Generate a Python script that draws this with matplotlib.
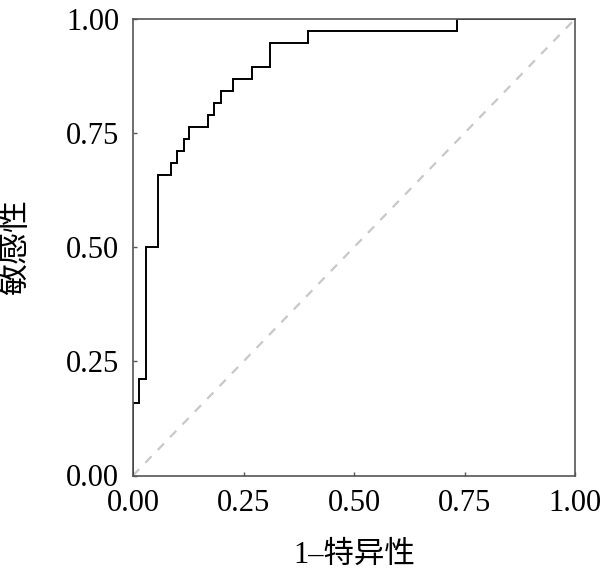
import matplotlib
matplotlib.use('Agg')
import matplotlib.pyplot as plt

# ROC step points (1 - specificity, sensitivity)
fpr = [0.0, 0.0, 0.0143, 0.0143, 0.029, 0.029, 0.057, 0.057, 0.085, 0.085,
       0.100, 0.100, 0.115, 0.115, 0.127, 0.127, 0.170, 0.170, 0.184, 0.184,
       0.199, 0.199, 0.226, 0.226, 0.269, 0.269, 0.311, 0.311, 0.396, 0.396,
       0.733, 0.733, 1.0]
tpr = [0.0, 0.158, 0.158, 0.2105, 0.2105, 0.5, 0.5, 0.658, 0.658, 0.684,
       0.684, 0.7105, 0.7105, 0.737, 0.737, 0.763, 0.763, 0.789, 0.789, 0.816,
       0.816, 0.842, 0.842, 0.868, 0.868, 0.895, 0.895, 0.947, 0.947, 0.974,
       0.974, 1.0, 1.0]
ticks = [0.0, 0.25, 0.5, 0.75, 1.0]
tick_labels = ['0.00', '0.25', '0.50', '0.75', '1.00']

fam = ['Liberation Serif', 'Noto Sans CJK SC']

fig = plt.figure(figsize=(6.07, 5.72), dpi=100)
ax = fig.add_axes([133/607, 1 - 475.5/572, 442/607, 456.5/572])

ax.plot([0, 1], [0, 1], color='#c8c8c8', linestyle=(0, (4, 4)), linewidth=1.6)
ax.plot(fpr, tpr, color='black', linewidth=1.4, solid_joinstyle='miter')

ax.set_xlim(0, 1)
ax.set_ylim(0, 1)
ax.set_xticks(ticks)
ax.set_yticks(ticks)
ax.set_xticklabels(tick_labels, family=fam, fontsize=22)
ax.set_yticklabels(tick_labels, family=fam, fontsize=22)
ax.tick_params(direction='in', length=3, width=1, color='#555555', pad=10,
               top=False, right=False)
for s in ax.spines.values():
  s.set_color('#555555')
  s.set_linewidth(1.2)

ax.set_xlabel('1–特异性', family=fam, fontsize=22, labelpad=16)
ax.set_ylabel('敏感性', family=fam, fontsize=23, labelpad=25)

plt.savefig('out.png', dpi=100)
